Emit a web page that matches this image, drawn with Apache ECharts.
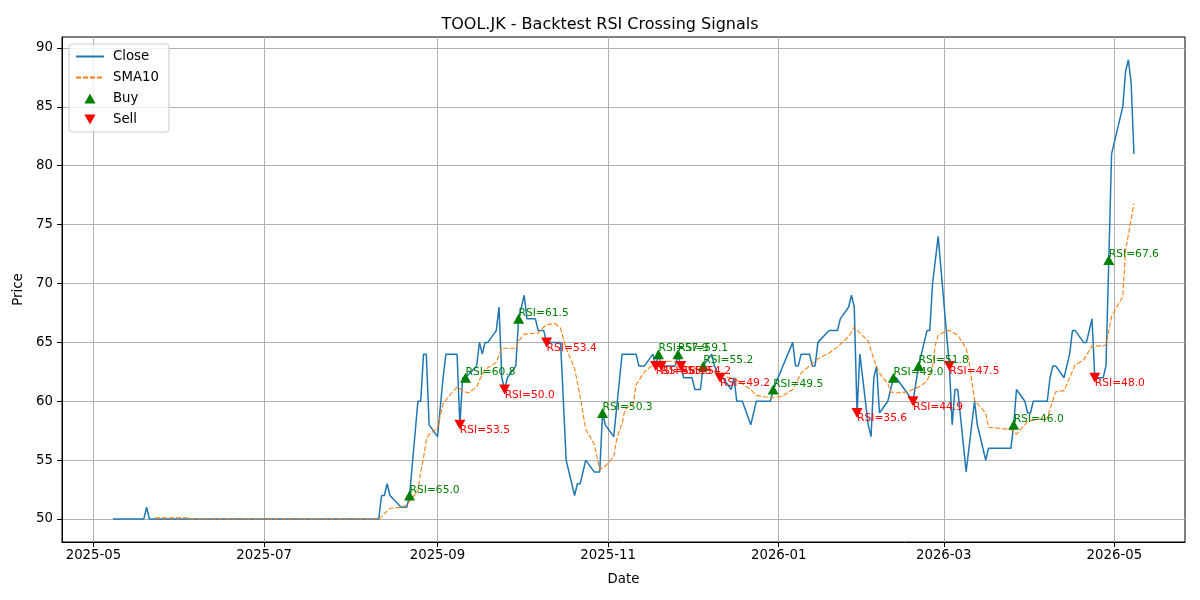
<!DOCTYPE html>
<html>
<head>
<meta charset="utf-8">
<title>TOOL.JK - Backtest RSI Crossing Signals</title>
<script src="https://cdn.jsdelivr.net/npm/echarts@6/dist/echarts.min.js"></script>
<style>
html, body { margin: 0; padding: 0; background: #fff; }
#chart { width: 1200px; height: 600px; }
</style>
</head>
<body>
<div id="chart"></div>
<script>
// Close price (only the days where the line changes direction)
var closeDates = [
	'2025-05-08','2025-05-19','2025-05-20','2025-05-21','2025-08-11','2025-08-12','2025-08-13','2025-08-14',
	'2025-08-15','2025-08-19','2025-08-21','2025-08-22','2025-08-25','2025-08-26','2025-08-27','2025-08-28',
	'2025-08-29','2025-09-01','2025-09-03','2025-09-04','2025-09-08','2025-09-09','2025-09-10','2025-09-11',
	'2025-09-15','2025-09-16','2025-09-17','2025-09-18','2025-09-19','2025-09-22','2025-09-23','2025-09-24',
	'2025-09-25','2025-09-26','2025-09-29','2025-09-30','2025-10-02','2025-10-03','2025-10-06','2025-10-07',
	'2025-10-09','2025-10-10','2025-10-15','2025-10-17','2025-10-20','2025-10-21','2025-10-22','2025-10-24',
	'2025-10-27','2025-10-29','2025-10-30','2025-10-31','2025-11-03','2025-11-06','2025-11-11','2025-11-12',
	'2025-11-14','2025-11-17','2025-11-18','2025-11-19','2025-11-20','2025-11-25','2025-11-26','2025-11-27',
	'2025-11-28','2025-12-01','2025-12-02','2025-12-04','2025-12-05','2025-12-08','2025-12-09','2025-12-11',
	'2025-12-12','2025-12-15','2025-12-16','2025-12-17','2025-12-19','2025-12-22','2025-12-24','2025-12-29',
	'2025-12-30','2026-01-06','2026-01-07','2026-01-08','2026-01-09','2026-01-12','2026-01-13','2026-01-14',
	'2026-01-15','2026-01-19','2026-01-22','2026-01-23','2026-01-26','2026-01-27','2026-01-28','2026-01-29',
	'2026-01-30','2026-02-02','2026-02-03','2026-02-04','2026-02-05','2026-02-06','2026-02-09','2026-02-11',
	'2026-02-12','2026-02-18','2026-02-20','2026-02-23','2026-02-24','2026-02-25','2026-02-27','2026-03-03',
	'2026-03-04','2026-03-05','2026-03-06','2026-03-09','2026-03-12','2026-03-13','2026-03-16','2026-03-17',
	'2026-03-25','2026-03-26','2026-03-27','2026-03-30','2026-03-31','2026-04-01','2026-04-02','2026-04-07',
	'2026-04-08','2026-04-09','2026-04-10','2026-04-13','2026-04-15','2026-04-16','2026-04-17','2026-04-20',
	'2026-04-21','2026-04-23','2026-04-24','2026-04-27','2026-04-28','2026-04-29','2026-04-30','2026-05-04',
	'2026-05-05','2026-05-06','2026-05-07','2026-05-08'
];
var closeValues = [
	50, 50, 51, 50, 50, 52, 52, 53,
	52, 51, 51, 52, 60, 60, 64, 64,
	58, 57, 62, 64, 64, 58, 62, 62,
	63, 65, 64, 65, 65, 66, 68, 62,
	61, 62, 63, 67, 69, 67, 67, 66,
	66, 65, 65, 55, 52, 53, 53, 55,
	54, 54, 59, 58, 57, 64, 64, 63,
	63, 64, 63, 64, 63, 63, 64, 63,
	62, 62, 61, 61, 63, 64, 63, 62,
	62, 61, 62, 60, 60, 58, 60, 60,
	61, 65, 63, 63, 64, 64, 63, 63,
	65, 66, 66, 67, 68, 69, 68, 59,
	64, 58, 57, 62, 63, 59, 60, 62,
	62, 60, 63, 66, 66, 70, 74, 63,
	58, 61, 61, 54, 60, 58, 55, 56,
	56, 58, 61, 60, 59, 59, 60, 60,
	62, 63, 63, 62, 64, 66, 66, 65,
	65, 67, 62, 62, 63, 72, 81, 85,
	88, 89, 87, 81
];

// SMA10
var smaDates = [
	'2025-05-23','2025-06-04','2025-06-05','2025-08-11','2025-08-15','2025-08-19','2025-08-21','2025-08-22',
	'2025-08-25','2025-08-26','2025-08-27','2025-08-28','2025-08-29','2025-09-01','2025-09-03','2025-09-05',
	'2025-09-08','2025-09-10','2025-09-12','2025-09-15','2025-09-16','2025-09-18','2025-09-22','2025-09-23',
	'2025-09-24','2025-09-29','2025-09-30','2025-10-02','2025-10-07','2025-10-08','2025-10-10','2025-10-13',
	'2025-10-15','2025-10-17','2025-10-20','2025-10-22','2025-10-24','2025-10-27','2025-10-29','2025-10-31',
	'2025-11-03','2025-11-04','2025-11-05','2025-11-06','2025-11-07','2025-11-10','2025-11-11','2025-11-14',
	'2025-11-17','2025-11-19','2025-11-24','2025-11-27','2025-12-01','2025-12-05','2025-12-09','2025-12-12',
	'2025-12-17','2025-12-22','2025-12-24','2025-12-29','2026-01-02','2026-01-06','2026-01-09','2026-01-13',
	'2026-01-15','2026-01-19','2026-01-22','2026-01-26','2026-01-28','2026-01-30','2026-02-02','2026-02-03',
	'2026-02-05','2026-02-06','2026-02-09','2026-02-10','2026-02-12','2026-02-16','2026-02-20','2026-02-23',
	'2026-02-25','2026-02-26','2026-02-27','2026-03-02','2026-03-03','2026-03-06','2026-03-09','2026-03-10',
	'2026-03-12','2026-03-16','2026-03-17','2026-03-25','2026-03-27','2026-03-31','2026-04-02','2026-04-07',
	'2026-04-10','2026-04-13','2026-04-17','2026-04-20','2026-04-23','2026-04-27','2026-04-28','2026-04-30',
	'2026-05-04','2026-05-05','2026-05-08'
];
var smaValues = [
	50.1, 50.1, 50.0, 50.0, 50.9, 51.0, 51.2, 51.5,
	52.4, 54.0, 55.2, 56.7, 57.2, 57.7, 59.8, 60.4,
	61.2, 60.9, 60.7, 61.2, 61.8, 62.7, 63.3, 63.9,
	64.5, 64.5, 65.1, 65.7, 65.8, 66.1, 66.5, 66.6,
	66.2, 64.5, 62.8, 60.4, 57.6, 56.4, 54.2, 54.5,
	55.3, 56.7, 57.5, 58.1, 59.3, 59.8, 61.4, 62.5,
	63.1, 63.4, 63.4, 63.1, 62.8, 62.8, 62.5, 62.2,
	61.8, 61.0, 60.5, 60.3, 60.4, 61.0, 62.4, 63.2,
	63.6, 64.1, 64.6, 65.5, 66.3, 65.8, 65.1, 64.3,
	62.9, 62.4, 61.5, 60.8, 60.7, 60.8, 61.2, 61.7,
	63.0, 64.8, 65.6, 66.0, 66.0, 65.6, 64.5, 63.4,
	60.1, 59.0, 57.8, 57.6, 57.2, 58.3, 58.4, 58.6,
	60.8, 60.9, 63.1, 63.5, 64.7, 64.7, 64.8, 67.2,
	68.9, 72.8, 76.8
];

// signals
var buyDates = ['2025-08-22','2025-09-11','2025-09-30','2025-10-30','2025-11-19','2025-11-26','2025-12-05','2025-12-30','2026-02-11','2026-02-20','2026-03-26','2026-04-29'];
var buyPrices = [52, 62, 67, 59, 64, 64, 63, 61, 62, 63, 58, 72];
var buyRsi = [65.0, 60.8, 61.5, 50.3, 57.9, 59.1, 55.2, 49.5, 49.0, 51.8, 46.0, 67.6];

var sellDates = ['2025-09-09','2025-09-25','2025-10-10','2025-11-18','2025-11-20','2025-11-27','2025-12-11','2026-01-29','2026-02-18','2026-03-03','2026-04-24'];
var sellPrices = [58, 61, 65, 63, 63, 63, 62, 59, 60, 63, 62];
var sellRsi = [53.5, 50.0, 53.4, 56.1, 55.8, 54.2, 49.2, 35.6, 44.9, 47.5, 48.0];

// tick labels
var xTickLabels = ['2025-05', '2025-07', '2025-09', '2025-11', '2026-01', '2026-03', '2026-05'];
var yTickLabels = [50, 55, 60, 65, 70, 75, 80, 85, 90];

function toTime(s) {
	return new Date(s + 'T00:00:00').getTime();
}
function pad2(n) {
	return n < 10 ? '0' + n : '' + n;
}

var closeData = closeDates.map(function (d, i) { return [toTime(d), closeValues[i]]; });
var smaData = smaDates.map(function (d, i) { return [toTime(d), smaValues[i]]; });
var buyData = buyDates.map(function (d, i) { return [toTime(d), buyPrices[i], buyRsi[i]]; });
var sellData = sellDates.map(function (d, i) { return [toTime(d), sellPrices[i], sellRsi[i]]; });
var xTicks = xTickLabels.map(function (s) { return toTime(s + '-01'); });

var FONT = 'DejaVu Sans';
var upTri = 'path://M5,0L10,9L0,9Z';
var downTri = 'path://M0,0L10,0L5,9Z';

var myChart = echarts.init(document.getElementById('chart'), null, { renderer: 'canvas' });
var option = {
	backgroundColor: '#fff',
	animation: false,
	textStyle: { fontFamily: FONT },
	title: {
		text: 'TOOL.JK - Backtest RSI Crossing Signals',
		left: 'center',
		top: 12,
		textStyle: { fontFamily: FONT, fontSize: 16, fontWeight: 'normal', color: '#000' }
	},
	grid: {
		left: 62, right: 15, top: 37, bottom: 58,
		show: true,
		borderColor: '#000',
		borderWidth: 1,
		backgroundColor: '#fff'
	},
	legend: {
		orient: 'vertical',
		left: 69,
		top: 44,
		padding: [6, 10, 6, 6],
		itemGap: 8,
		itemWidth: 28,
		itemHeight: 10,
		backgroundColor: 'rgba(255,255,255,0.8)',
		borderColor: '#cccccc',
		borderWidth: 1,
		borderRadius: 3,
		textStyle: { fontFamily: FONT, fontSize: 13.3, color: '#000', padding: [0, 0, 0, 4] },
		data: [
			{ name: 'Close', itemStyle: { opacity: 0 } },
			{ name: 'SMA10', itemStyle: { opacity: 0 } },
			{ name: 'Buy' },
			{ name: 'Sell' }
		]
	},
	xAxis: {
		type: 'value',
		min: toTime('2025-04-19') + 18 * 3600 * 1000,
		max: toTime('2026-05-26') + 6 * 3600 * 1000,
		name: 'Date',
		nameLocation: 'middle',
		nameGap: 31,
		nameTextStyle: { fontFamily: FONT, fontSize: 13.3, color: '#000' },
		axisLine: { show: true, onZero: false, lineStyle: { color: '#000', width: 1 } },
		axisTick: { show: true, inside: false, length: 5, lineStyle: { color: '#000' }, customValues: xTicks },
		axisLabel: {
			customValues: xTicks,
			margin: 7,
			fontFamily: FONT,
			fontSize: 13.3,
			color: '#000',
			formatter: function (v) {
				var d = new Date(v);
				return d.getFullYear() + '-' + pad2(d.getMonth() + 1);
			}
		},
		splitLine: { show: true, lineStyle: { color: '#b0b0b0', width: 1 } }
	},
	yAxis: {
		type: 'value',
		min: 48.05,
		max: 90.93,
		name: 'Price',
		nameLocation: 'middle',
		nameGap: 33,
		nameTextStyle: { fontFamily: FONT, fontSize: 13.3, color: '#000' },
		axisLine: { show: true, onZero: false, lineStyle: { color: '#000', width: 1 } },
		axisTick: { show: true, inside: false, length: 5, lineStyle: { color: '#000' }, customValues: yTickLabels },
		axisLabel: {
			customValues: yTickLabels,
			margin: 9,
			fontFamily: FONT,
			fontSize: 13.3,
			color: '#000'
		},
		splitLine: { show: true, lineStyle: { color: '#b0b0b0', width: 1 } }
	},
	series: [
		{
			name: 'Close',
			type: 'line',
			data: closeData,
			symbol: 'none',
			color: '#1f77b4',
			lineStyle: { color: '#1f77b4', width: 1.5 },
			z: 3
		},
		{
			name: 'SMA10',
			type: 'line',
			data: smaData,
			symbol: 'none',
			color: '#ff7f0e',
			lineStyle: { color: '#ff7f0e', width: 1.1, type: [5, 2] },
			z: 4
		},
		{
			name: 'Buy',
			type: 'scatter',
			data: buyData,
			symbol: upTri,
			symbolSize: [11, 10],
			itemStyle: { color: '#008000', opacity: 1 },
			z: 5,
			label: {
				show: true,
				position: ['50%', '50%'],
				align: 'left',
				verticalAlign: 'bottom',
				fontFamily: FONT,
				fontSize: 10.7,
				color: '#008000',
				formatter: function (p) { return 'RSI=' + p.value[2].toFixed(1); }
			}
		},
		{
			name: 'Sell',
			type: 'scatter',
			data: sellData,
			symbol: downTri,
			symbolSize: [11, 10],
			itemStyle: { color: '#ff0000', opacity: 1 },
			z: 5,
			label: {
				show: true,
				position: ['50%', '50%'],
				align: 'left',
				verticalAlign: 'top',
				fontFamily: FONT,
				fontSize: 10.7,
				color: '#ff0000',
				formatter: function (p) { return 'RSI=' + p.value[2].toFixed(1); }
			}
		}
	]
};
myChart.setOption(option);
</script>
</body>
</html>
